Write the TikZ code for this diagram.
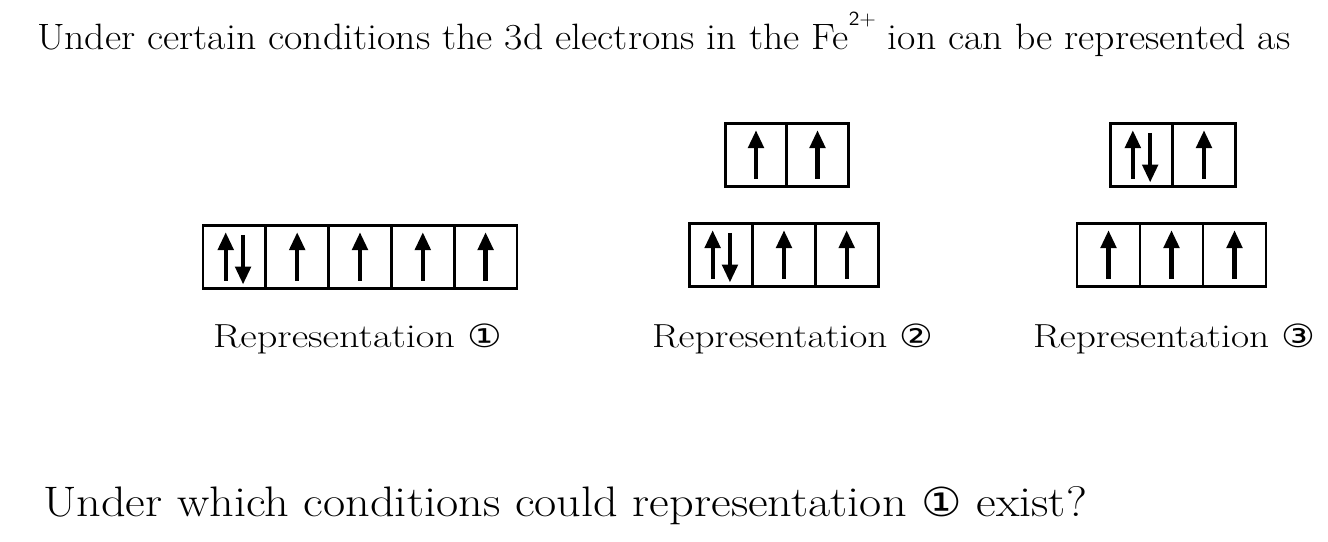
\documentclass[tikz,border=0pt]{standalone}
\usepackage{fontspec}
\usepackage{graphicx}
\newfontfamily\circfont{DejaVu Sans}
\usetikzlibrary{arrows.meta}
\begin{document}
\begin{tikzpicture}[x=0.75pt,y=-0.75pt,
  cell/.style={draw,line width=2.2pt,minimum width=47.25pt,minimum height=47.25pt,inner sep=0pt,outer sep=0pt},
  spin/.style={line width=3.2pt,-{Triangle[width=11.5pt,length=13.5pt]}},
  txt/.style={inner sep=0pt,outer sep=0pt,anchor=base west}]
\useasboundingbox (0,0) rectangle (1328,542);
% text
\node[txt] (l1) at (37,50) {\resizebox{940pt}{\height}{\fontsize{27.5}{30}\selectfont Under certain conditions the 3d electrons in the Fe\raisebox{18.5pt}{\fontsize{15}{15}\sffamily 2+} ion can be represented as}};
\node[txt] (r1) at (213,347) {\resizebox{216.75pt}{\height}{\fontsize{25}{28}\selectfont Representation {\circfont\fontsize{24}{28}\selectfont ①}}};
\node[txt] (r2) at (652,347) {\resizebox{210.75pt}{\height}{\fontsize{25}{28}\selectfont Representation {\circfont\fontsize{24}{28}\selectfont ②}}};
\node[txt] (r3) at (1033,347) {\resizebox{211.5pt}{\height}{\fontsize{25}{28}\selectfont Representation {\circfont\fontsize{24}{28}\selectfont ③}}};
\node[txt] (l2) at (43,516) {\resizebox{783pt}{\height}{\fontsize{32}{36}\selectfont Under which conditions could representation {\circfont\fontsize{30}{36}\selectfont ①} exist?}};
% representation 1
\foreach \i/\cx in {1/234.4,2/297.2,3/360,4/422.8,5/485.6}
  \node[cell,minimum width=47.1pt] (a\i) at (\cx,257) {};
% representation 2
\foreach \i/\cx in {1/721.3,2/784,3/846.7}
  \node[cell] (b\i) at (\cx,255) {};
\foreach \i/\cx in {1/756,2/817.5}
  \node[cell,minimum width=46.1pt] (bt\i) at (\cx,155) {};
% representation 3
\foreach \i/\cx in {1/1108.5,2/1171.5,3/1234.5}
  \node[cell] (c\i) at (\cx,255) {};
\foreach \i/\cx in {1/1141.5,2/1204}
  \node[cell,minimum width=46.9pt] (ct\i) at (\cx,155) {};
% single up spins
\foreach \n in {a2,a3,a4,a5,b2,b3,bt1,bt2,c1,c2,c3,ct2}
  \draw[spin] ([yshift=6pt]\n.south) -- ([yshift=-5pt]\n.north);
% paired spins
\foreach \n in {a1,b1,ct1}{
  \draw[spin] ([xshift=-6.5pt,yshift=6pt]\n.south) -- ([xshift=-6.5pt,yshift=-5pt]\n.north);
  \draw[spin] ([xshift=6.5pt,yshift=-7pt]\n.north) -- ([xshift=6.5pt,yshift=3pt]\n.south);
}
\end{tikzpicture}
\end{document}
